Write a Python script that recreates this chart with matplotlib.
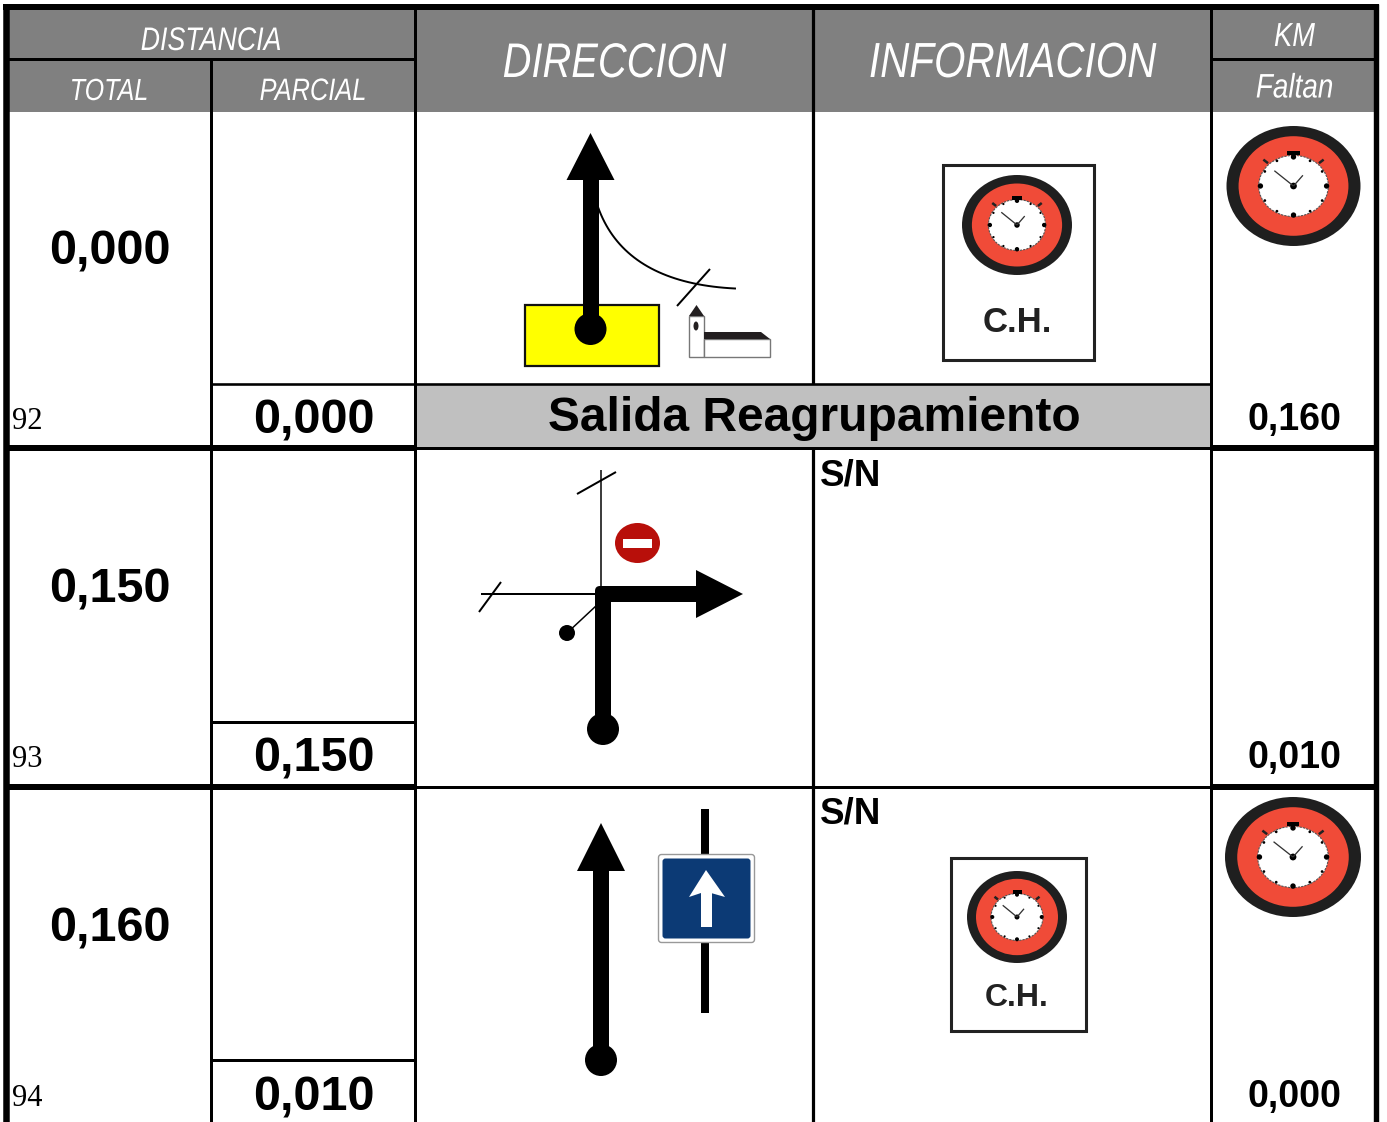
import matplotlib as mpl
mpl.use('agg')

import matplotlib.pyplot as plt
import matplotlib.patheffects as pe
from matplotlib.patches import Rectangle, Polygon, Circle, Ellipse, FancyBboxPatch
from matplotlib.transforms import Affine2D
import numpy as np

W, H = 1387, 1122

row_ids = ['92', '93', '94']
totals = ['0,000', '0,150', '0,160']
parciales = ['0,000', '0,150', '0,010']
faltan = ['0,160', '0,010', '0,000']
notes = ['', 'S/N', 'S/N']
band_text = 'Salida Reagrupamiento'
head_top = ['DISTANCIA', 'KM']
head_sub = ['TOTAL', 'PARCIAL', 'Faltan']
head_big = ['DIRECCION', 'INFORMACION']

row_bottom = [448, 787]
partial_top = [383.5, 722, 1060]

GREY = '#808080'
RED = '#f04b38'

fig = plt.figure(figsize=(W / 100, H / 100), dpi=100)
ax = fig.add_axes([0, 0, 1, 1])
ax.set_xlim(0, W)
ax.set_ylim(H, 0)
ax.axis('off')


class Narrow(pe.AbstractPathEffect):
    # no narrow font installed, squeeze the glyphs around x
    def __init__(self, x, k=0.82):
        super().__init__()
        self.x = x
        self.k = k

    def draw_path(self, renderer, gc, tpath, affine, rgbFace=None):
        squeeze = Affine2D().translate(-self.x, 0).scale(self.k, 1).translate(self.x, 0)
        renderer.draw_path(gc, tpath, affine + squeeze, rgbFace)


def head(x, y, s, size):
    t = ax.text(x, y, s, fontsize=size, family='Liberation Sans', style='italic', color='white',
                ha='center', va='baseline', zorder=5)
    t.set_path_effects([Narrow(x)])


def box(x0, y0, x1, y1, color, z=1):
    ax.add_patch(Rectangle((x0, y0), x1 - x0, y1 - y0, fc=color, ec='none', zorder=z))


def seg(xs, ys, lw, color='black', z=4):
    # lw given in image pixels
    ax.plot(xs, ys, color=color, lw=lw * 0.72, solid_capstyle='butt', zorder=z)


def arrow_up(x, top, bottom, base):
    box(x - 8, base, x + 8, bottom, 'black', 4)
    ax.add_patch(Polygon([(x, top), (x - 24, base), (x + 24, base)], fc='black', ec='none', zorder=4))
    ax.add_patch(Circle((x, bottom), 16, fc='black', ec='none', zorder=4))


def clock(cx, cy, rx, ry):
    ax.add_patch(Ellipse((cx, cy), 2 * rx, 2 * ry, fc='#1f1f1f', ec='none', zorder=3))
    ax.add_patch(Ellipse((cx, cy), 2 * rx * 0.82, 2 * ry * 0.83, fc=RED, ec='none', zorder=3))
    fx, fy = rx * 0.52, ry * 0.51
    ax.add_patch(Ellipse((cx, cy), 2 * fx, 2 * fy, fc='white', ec='#555555', lw=0.8, ls=(0, (2, 1)), zorder=3))
    for a in np.arange(0, 360, 30):
        big = a % 90 == 0
        ax.add_patch(Circle((cx + fx * 0.95 * np.cos(np.radians(a)), cy + fy * 0.95 * np.sin(np.radians(a))),
                            rx * (0.04 if big else 0.02), fc='black', ec='none', zorder=4))
    ax.add_patch(Circle((cx, cy), rx * 0.05, fc='black', ec='none', zorder=4))
    seg([cx, cx - fx * 0.55], [cy, cy - fy * 0.5], 1.3, '#333333')
    seg([cx, cx + fx * 0.27], [cy, cy - fy * 0.35], 1.3, '#333333')
    box(cx - rx * 0.09, cy - ry * 0.58, cx + rx * 0.09, cy - ry * 0.51, 'black', 4)
    seg([cx - rx * 0.45, cx - rx * 0.38], [cy - ry * 0.44, cy - ry * 0.38], 2.5, '#222222')
    seg([cx + rx * 0.45, cx + rx * 0.38], [cy - ry * 0.44, cy - ry * 0.38], 2.5, '#222222')


def ch_card(x0, y0, x1, y1, cy, rx, ry, ty, size):
    ax.add_patch(Rectangle((x0, y0), x1 - x0, y1 - y0, fc='white', ec='#222222', lw=2.2, zorder=2))
    clock((x0 + x1) / 2 - 1, cy, rx, ry)
    ax.text((x0 + x1) / 2 - 1, ty, 'C.H.', fontsize=size, fontweight='bold', family='Liberation Sans',
            color='#222222', ha='center', va='center', zorder=4)


# header
box(8, 8, 1375, 112, GREY)
head(211, 50, head_top[0], 23.5)
head(109, 100, head_sub[0], 22)
head(313, 100, head_sub[1], 22.3)
head(614.5, 77, head_big[0], 35)
head(1012.5, 77, head_big[1], 35.5)
head(1294.5, 46, head_top[1], 24)
head(1294.5, 97.5, head_sub[2], 24.5)

# grey band of first row
box(416, 385, 1210, 447.5, '#c0c0c0')
ax.text(814, 418, band_text, fontsize=34.5, fontweight='bold', family='Liberation Sans',
        ha='center', va='center', zorder=5)

# grid
seg([3, 1378.7], [7, 7], 6, z=6)
seg([6.3, 6.3], [4, H], 6.5, z=6)
seg([1376, 1376], [4, H], 5.4, z=6)
seg([8, 415], [59.2, 59.2], 3, z=6)
seg([1210, 1375], [59.2, 59.2], 3, z=6)
seg([211.3, 211.3], [60, H], 3, z=6)
seg([415.3, 415.3], [8, H], 3, z=6)
seg([812.6, 812.6], [8, 384], 3.2, z=6)
seg([812.6, 812.6], [447, H], 3.2, z=6)
seg([1210.5, 1210.5], [8, H], 3, z=6)
for yb in row_bottom:
    # heavier outside the direction and information columns
    seg([8, 415], [yb, yb], 6, z=6)
    seg([1210, 1375], [yb, yb], 6, z=6)
    seg([415, 1210], [yb + 0.3, yb + 0.3], 3, z=6)
seg([211, 1210], [partial_top[0], partial_top[0]], 2.6, z=6)
for yt in partial_top[1:]:
    seg([211, 416], [yt, yt], 3, z=6)

# row values
offs = [0, 338, 677]
for i in range(3):
    o = offs[i]
    ax.text(110, 252 + o, totals[i], fontsize=35, fontweight='bold', family='Liberation Sans',
            ha='center', va='center', zorder=5)
    ax.text(314, 421 + o, parciales[i], fontsize=35, fontweight='bold', family='Liberation Sans',
            ha='center', va='center', zorder=5)
    ax.text(1294.5, 420 + o, faltan[i], fontsize=27, fontweight='bold', family='Liberation Sans',
            ha='center', va='center', zorder=5)
    ax.text(12, 421 + o, row_ids[i], fontsize=22, family='Liberation Serif', ha='left', va='center', zorder=5)
    if notes[i]:
        ax.text(820, 476 + (i - 1) * 338, notes[i], fontsize=26.5, fontweight='bold', family='Liberation Sans',
                ha='left', va='center', zorder=5)

# row 1 direction icon
ax.add_patch(Rectangle((524.5, 304.5), 134, 61, fc='#ffff00', ec='#111111', lw=1.6, zorder=2))
arrow_up(590.5, 133, 329, 180)
t = np.linspace(0, 1, 40)
ax.plot((1 - t) ** 2 * 598 + 2 * t * (1 - t) * 625 + t ** 2 * 735,
        (1 - t) ** 2 * 207 + 2 * t * (1 - t) * 283 + t ** 2 * 288.5, color='black', lw=1.4, zorder=3)
seg([677, 710], [306, 269], 2)
ax.add_patch(Rectangle((689, 316), 15, 41, fc='white', ec='#777777', lw=1, zorder=3))
ax.add_patch(Rectangle((704, 339), 66, 18, fc='white', ec='#777777', lw=1, zorder=3))
ax.add_patch(Polygon([(689, 316), (696.5, 305), (704, 316)], fc='#231f20', ec='none', zorder=4))
ax.add_patch(Polygon([(704, 332), (761, 332), (770, 339), (704, 339)], fc='#231f20', ec='none', zorder=4))
ax.add_patch(Ellipse((696, 326), 5, 9, fc='#231f20', ec='none', zorder=4))

# row 1 information
ch_card(942.5, 164.5, 1093.5, 360, 225, 55, 50, 322, 25)
clock(1293.5, 186, 67, 60)

# row 2 direction icon
seg([601, 601], [470, 590], 1.5)
seg([577, 616], [494, 472], 2)
seg([481, 600], [594, 594], 2)
seg([479, 501], [612, 582], 2)
seg([567, 597], [633, 605], 1.5)
ax.add_patch(Circle((567, 633), 8, fc='black', ec='none', zorder=4))
ax.add_patch(Ellipse((637.5, 543), 45, 40, fc='#b80f0a', ec='none', zorder=4))
box(623, 539, 652, 548, 'white', 5)
ax.add_patch(FancyBboxPatch((595, 586), 16, 16, boxstyle='round,pad=0,rounding_size=5', fc='black', ec='none', zorder=4))
box(595, 594, 611, 729, 'black', 4)
box(603, 586, 696, 602, 'black', 4)
ax.add_patch(Polygon([(743, 594), (696, 570), (696, 618)], fc='black', ec='none', zorder=4))
ax.add_patch(Circle((603, 729), 16, fc='black', ec='none', zorder=4))

# row 3 direction icon
arrow_up(601, 823, 1060, 871)
box(701, 809, 709, 1013, 'black', 2)
ax.add_patch(FancyBboxPatch((658.5, 854.5), 96, 88, boxstyle='round,pad=0,rounding_size=3', fc='white', ec='#999999', lw=1, zorder=3))
ax.add_patch(FancyBboxPatch((662.5, 858.5), 88, 80, boxstyle='round,pad=0,rounding_size=3', fc='#0c3a75', ec='none', zorder=3))
box(701, 890, 711.5, 927, 'white', 4)
ax.add_patch(Polygon([(706, 870), (725, 897), (711, 893), (701, 893), (689, 897)], fc='white', ec='none', zorder=4))

# row 3 information
ch_card(950.5, 857.5, 1085.5, 1031, 917, 50, 46, 998, 23)
clock(1293, 857, 68, 60)

plt.savefig('out.png', dpi=100)
